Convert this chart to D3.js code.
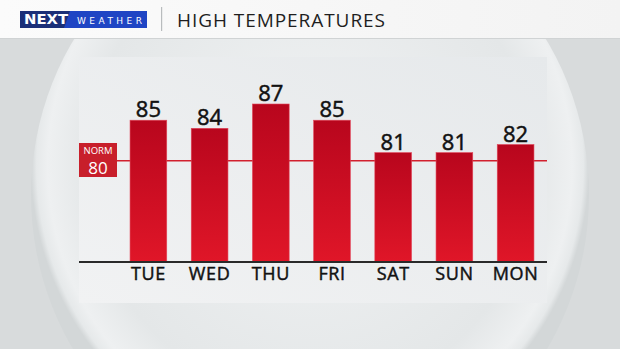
<!DOCTYPE html>
<html>
<head>
<meta charset="utf-8">
<script src="https://cdn.jsdelivr.net/npm/d3@7"></script>
<style>
  html, body { margin: 0; padding: 0; background: #d8dbdc; }
  svg { display: block; font-family: "Open Sans", sans-serif; }
</style>
</head>
<body>
<div id="graphic"></div>
<script>
// DATA
var days = ["TUE", "WED", "THU", "FRI", "SAT", "SUN", "MON"];
var highs = [85, 84, 87, 85, 81, 81, 82];
var normal = 80;
var title = "HIGH TEMPERATURES";

var W = 620, H = 349;

var svg = d3.select("#graphic").append("svg")
    .attr("width", W)
    .attr("height", H);

var defs = svg.append("defs");

// sphere gradient
var sg = defs.append("radialGradient").attr("id", "sphere")
    .attr("cx", "50%").attr("cy", "45%").attr("r", "50%");
sg.append("stop").attr("offset", "0%").attr("stop-color", "#f1f3f4");
sg.append("stop").attr("offset", "80%").attr("stop-color", "#e4e7e8");
sg.append("stop").attr("offset", "94%").attr("stop-color", "#eef0f1");
sg.append("stop").attr("offset", "98%").attr("stop-color", "#e6e9ea");
sg.append("stop").attr("offset", "100%").attr("stop-color", "#d3d7d8");

var pg = defs.append("linearGradient").attr("id", "panel")
    .attr("x1", "0").attr("y1", "1").attr("x2", "1").attr("y2", "0");
pg.append("stop").attr("offset", "0%").attr("stop-color", "#f1f2f3");
pg.append("stop").attr("offset", "100%").attr("stop-color", "#e6e9eb");

var bg = defs.append("linearGradient").attr("id", "bar")
    .attr("x1", "0").attr("y1", "0").attr("x2", "0").attr("y2", "1");
bg.append("stop").attr("offset", "0%").attr("stop-color", "#b8061d");
bg.append("stop").attr("offset", "100%").attr("stop-color", "#e01628");

var hg = defs.append("linearGradient").attr("id", "head")
    .attr("x1", "0").attr("y1", "0").attr("x2", "1").attr("y2", "0");
hg.append("stop").attr("offset", "0%").attr("stop-color", "#fbfbfb");
hg.append("stop").attr("offset", "100%").attr("stop-color", "#f3f3f3");

// BACKGROUND
svg.append("rect").attr("width", W).attr("height", H).attr("fill", "#d8dbdc");
svg.append("ellipse")
    .attr("cx", 310).attr("cy", 195)
    .attr("rx", 279).attr("ry", 292)
    .attr("fill", "url(#sphere)");

// HEADER
svg.append("rect").attr("width", W).attr("height", 38).attr("fill", "url(#head)");
svg.append("rect").attr("y", 38).attr("width", W).attr("height", 1).attr("fill", "#d0d3d4");

var logo = svg.append("g");
logo.append("rect").attr("x", 20).attr("y", 11).attr("width", 127).attr("height", 17).attr("fill", "#1f45c4");
logo.append("path").attr("d", "M20,11 L70,11 L64,28 L20,28 Z").attr("fill", "#1b2f78");
logo.append("text").attr("x", 24).attr("y", 24)
    .attr("font-family", "'DejaVu Sans', sans-serif")
    .attr("fill", "#fff").attr("font-size", 13.5).attr("font-weight", 700)
    .attr("textLength", 44).attr("lengthAdjust", "spacingAndGlyphs")
    .text("NEXT");
logo.append("text").attr("x", 77).attr("y", 23.5)
    .attr("font-family", "'DejaVu Sans', sans-serif")
    .attr("fill", "#fff").attr("font-size", 9).attr("font-weight", 400)
    .attr("textLength", 65).attr("lengthAdjust", "spacing")
    .text("WEATHER");

svg.append("rect").attr("x", 161).attr("y", 7).attr("width", 1.2).attr("height", 24).attr("fill", "#b9bcbe");
svg.append("text")
    .attr("x", 177).attr("y", 26.5)
    .attr("font-size", 19).attr("fill", "#1e1e1e")
    .attr("textLength", 208).attr("lengthAdjust", "spacing")
    .text(title);

// PANEL
var panel = {left: 79, top: 57, right: 547, bottom: 303};
svg.append("rect")
    .attr("x", panel.left).attr("y", panel.top)
    .attr("width", panel.right - panel.left)
    .attr("height", panel.bottom - panel.top)
    .attr("fill", "url(#panel)");

// SCALES
var x = d3.scaleBand()
    .domain(days)
    .range([117.8, 546.2])
    .paddingInner(0.4)
    .paddingOuter(0.2);

var y = d3.scaleLinear()
    .domain([67.5, 87])
    .range([262, 104]);

// normal line (behind bars)
svg.append("line")
    .attr("x1", 117).attr("x2", panel.right)
    .attr("y1", y(normal)).attr("y2", y(normal))
    .attr("stroke", "#d2202e").attr("stroke-width", 1.6);

// BARS
svg.selectAll(".bar")
    .data(highs)
    .enter()
    .append("rect")
    .attr("class", "bar")
    .attr("x", (d, i) => x(days[i]))
    .attr("y", d => y(d))
    .attr("width", x.bandwidth())
    .attr("height", d => y.range()[0] - y(d))
    .attr("fill", "url(#bar)")
    .attr("stroke", "#e2475a")
    .attr("stroke-width", 0.6);

svg.selectAll(".val")
    .data(highs)
    .enter()
    .append("text")
    .attr("class", "val")
    .attr("x", (d, i) => x(days[i]) + x.bandwidth() / 2)
    .attr("y", d => y(d) - 3)
    .attr("text-anchor", "middle")
    .attr("font-size", 22).attr("font-weight", 400)
    .attr("fill", "#111")
    .attr("stroke", "#111").attr("stroke-width", 0.5)
    .text(d => d);

// baseline axis
svg.append("line")
    .attr("x1", panel.left).attr("x2", panel.right)
    .attr("y1", 262).attr("y2", 262)
    .attr("stroke", "#2a2a2a").attr("stroke-width", 2);

var xAxis = d3.axisBottom(x).tickSize(0).tickPadding(0);
var gx = svg.append("g")
    .attr("transform", "translate(0,280)")
    .call(xAxis);
gx.select(".domain").remove();
gx.selectAll("text")
    .attr("dy", 0)
    .attr("font-family", "'Open Sans', sans-serif")
    .attr("font-size", 18).attr("font-weight", 400)
    .attr("fill", "#111")
    .attr("stroke", "#111").attr("stroke-width", 0.45)
    .attr("letter-spacing", 0.6);

// NORM badge
var norm = svg.append("g");
norm.append("rect")
    .attr("x", panel.left).attr("y", 143)
    .attr("width", 38).attr("height", 34)
    .attr("fill", "#c81f2b");
norm.append("text")
    .attr("x", 98).attr("y", 153.5)
    .attr("text-anchor", "middle")
    .attr("font-size", 9.5).attr("fill", "#fff")
    .text("NORM");
norm.append("text")
    .attr("x", 98).attr("y", 173.5)
    .attr("text-anchor", "middle")
    .attr("font-size", 17).attr("fill", "#fff")
    .text(normal);
</script>
</body>
</html>
